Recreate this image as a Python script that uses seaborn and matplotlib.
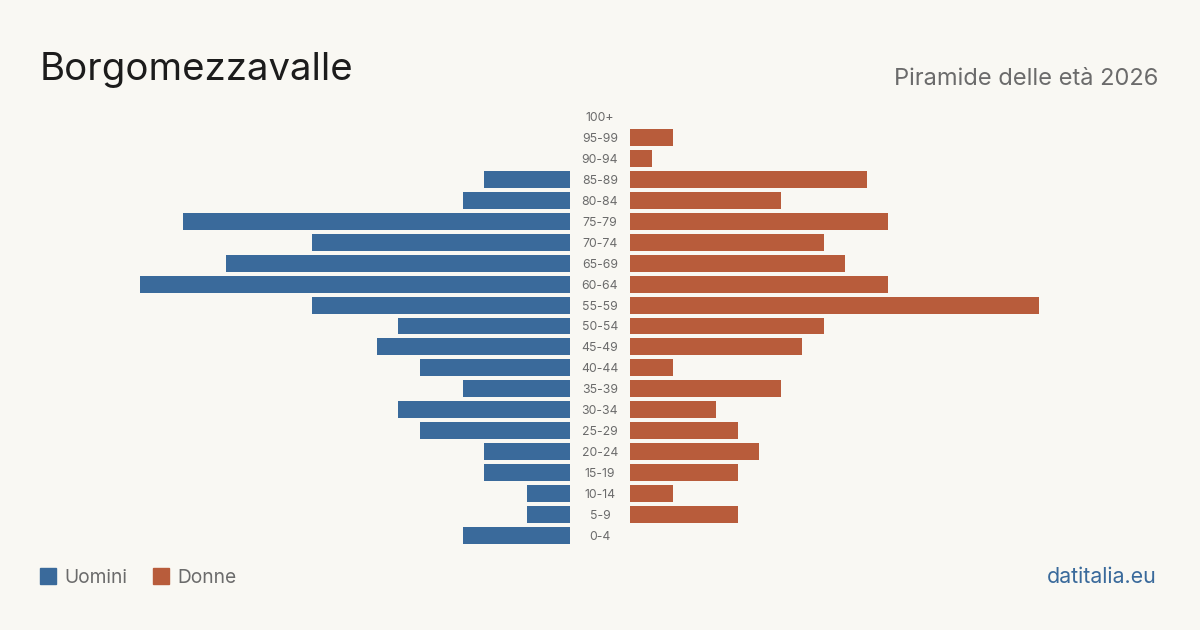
import pandas as pd
import matplotlib.pyplot as plt
import seaborn as sns

# dati della piramide
eta = ['100+', '95-99', '90-94', '85-89', '80-84', '75-79', '70-74', '65-69',
       '60-64', '55-59', '50-54', '45-49', '40-44', '35-39', '30-34', '25-29',
       '20-24', '15-19', '10-14', '5-9', '0-4']
uomini = [0, 0, 0, 4, 5, 18, 12, 16, 20, 12, 8, 9, 7, 5, 8, 7, 4, 4, 2, 2, 5]
donne = [0, 2, 1, 11, 7, 12, 9, 10, 12, 19, 9, 8, 2, 7, 4, 5, 6, 5, 2, 5, 0]

BLU = '#3a6a9b'
ROSSO = '#b85c3b'
SFONDO = '#f9f8f3'
GRIGIO = '#6b6b6b'

sns.set_theme(style='white')
plt.rcParams['font.family'] = ['Inter', 'DejaVu Sans']

df = pd.DataFrame({'eta': eta, 'Uomini': uomini, 'Donne': donne})

W, H = 1200, 630
fig = plt.figure(figsize=(12, 6.3), dpi=100, facecolor=SFONDO)

px_unit = 21.5
row = 20.95
top_px = 116.5 - row / 2
h_px = row * len(eta)
bottom = (H - (top_px + h_px)) / H
height = h_px / H

ax_l = fig.add_axes([40 / W, bottom, 530 / W, height])
ax_r = fig.add_axes([630 / W, bottom, 530 / W, height])

sns.barplot(data=df, x='Uomini', y='eta', order=eta, color=BLU, width=0.81,
            saturation=1, linewidth=0, ax=ax_l)
sns.barplot(data=df, x='Donne', y='eta', order=eta, color=ROSSO, width=0.81,
            saturation=1, linewidth=0, ax=ax_r)

lim = 530 / px_unit
ax_l.set_xlim(lim, 0)
ax_r.set_xlim(0, lim)

for ax in (ax_l, ax_r):
    ax.set_facecolor('none')
    ax.set_xlabel('')
    ax.set_ylabel('')
    ax.set_xticks([])
    for s in ax.spines.values():
        s.set_visible(False)

ax_r.set_yticks([])
ax_l.yaxis.tick_right()
ax_l.tick_params(axis='y', length=0, pad=21.6, labelsize=8.8, labelcolor=GRIGIO)
for t in ax_l.get_yticklabels():
    t.set_ha('center')

# titolo e sottotitolo
fig.text(40 / W, 1 - 80 / H, 'Borgomezzavalle', fontsize=27.6, color='#1c1c1c',
         ha='left', va='baseline')
fig.text(1158 / W, 1 - 85 / H, 'Piramide delle età 2026', fontsize=17,
         color=GRIGIO, ha='right', va='baseline')

# legenda
fig.patches.append(plt.Rectangle((40 / W, 1 - 584 / H), 16 / W, 16 / H,
                                 color=BLU, transform=fig.transFigure))
fig.text(64 / W, 1 - 583 / H, 'Uomini', fontsize=13.8, color=GRIGIO,
         ha='left', va='baseline')
fig.patches.append(plt.Rectangle((153 / W, 1 - 584 / H), 16 / W, 16 / H,
                                 color=ROSSO, transform=fig.transFigure))
fig.text(177 / W, 1 - 583 / H, 'Donne', fontsize=13.8, color=GRIGIO,
         ha='left', va='baseline')

fig.text(1157 / W, 1 - 583 / H, 'datitalia.eu', fontsize=15.4, color=BLU,
         ha='right', va='baseline')

fig.savefig('out.png', dpi=100, facecolor=SFONDO)
